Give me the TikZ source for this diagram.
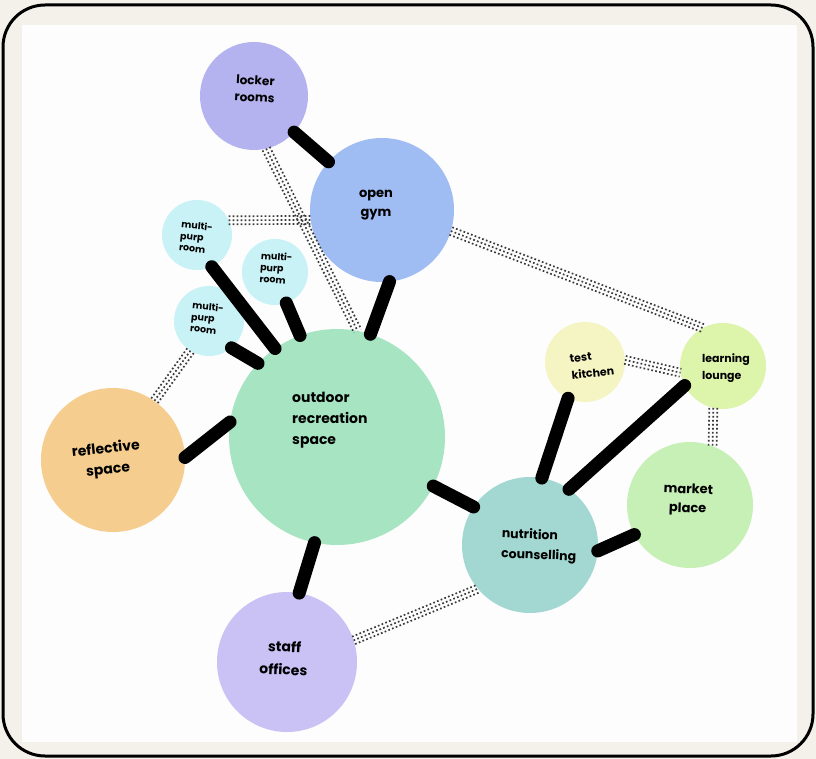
\documentclass[tikz,border=0pt]{standalone}
\usepackage{fontspec}
\setmainfont{Poppins}
\usetikzlibrary{calc}
\definecolor{cBg}{HTML}{F3F1EA}
\definecolor{cIn}{HTML}{FDFDFE}
\definecolor{cLock}{HTML}{B4B2EF}
\definecolor{cGym}{HTML}{9FBCF3}
\definecolor{cMp}{HTML}{C8F2F6}
\definecolor{cOut}{HTML}{A7E5C2}
\definecolor{cRefl}{HTML}{F5CE8F}
\definecolor{cNut}{HTML}{A2D8D1}
\definecolor{cKit}{HTML}{F5F4C3}
\definecolor{cLng}{HTML}{DDF5AB}
\definecolor{cMkt}{HTML}{C7F0B6}
\definecolor{cStaff}{HTML}{CAC1F5}
\definecolor{cDot}{HTML}{3A3A3A}
\tikzset{
  bub/.style={circle, draw=none, inner sep=0pt, outer sep=0pt},
  stub/.style={line width=13pt, line cap=round, black},
  dotl/.style={line width=1.7pt, cDot, dash pattern=on 1.7pt off 2.3pt},
  lbl/.style={font=\fontsize{14}{16}\selectfont, align=center, inner sep=0pt, text=black},
  slbl/.style={font=\fontsize{9.5}{11.5}\selectfont\bfseries, align=left, inner sep=0pt, text=black},
}
\newcommand\dband[2]{%
  \draw[dotl] ($(#1)!4pt!90:(#2)$) -- ($(#2)!4pt!-90:(#1)$);
  \draw[dotl] (#1) -- (#2);
  \draw[dotl] ($(#1)!4pt!-90:(#2)$) -- ($(#2)!4pt!90:(#1)$);}
\begin{document}
\begin{tikzpicture}[x=1pt,y=-1pt]
\useasboundingbox (0,0) rectangle (816,759);
\fill[cBg] (0,0) rectangle (816,759);
\fill[cIn] (22,25) rectangle (797,742);
\draw[line width=3pt, black, rounded corners=42pt] (3,5) rectangle (813,756);

% bubbles
\node[bub, fill=cLock, minimum size=108pt] (lock) at (254,96) {};
\node[bub, fill=cGym, minimum size=144pt] (gym) at (382,210) {};
\node[bub, fill=cMp, minimum size=70pt] (mp1) at (197,235) {};
\node[bub, fill=cMp, minimum size=66pt] (mp2) at (275,272) {};
\node[bub, fill=cMp, minimum size=70pt] (mp3) at (209,321) {};
\node[bub, fill=cOut, minimum size=216pt] (out) at (337,437) {};
\node[bub, fill=cRefl, minimum size=144pt] (refl) at (113,460) {};
\node[bub, fill=cNut, minimum size=136pt] (nut) at (530,545) {};
\node[bub, fill=cKit, minimum size=80pt] (kit) at (585,362) {};
\node[bub, fill=cLng, minimum size=86pt] (lng) at (723,366) {};
\node[bub, fill=cMkt, minimum size=126pt] (mkt) at (690,505) {};
\node[bub, fill=cStaff, minimum size=140pt] (staff) at (287,662) {};

% dotted bands
\dband{lock.-77}{out.79}
\dband{mp1.25}{gym.188}
\dband{gym.-17}{lng.118}
\dband{kit.3}{lng.189}
\dband{lng.-103}{mkt.69}
\dband{mp3.238}{refl.55}
\dband{staff.18}{nut.220}

% thick stubs
\draw[stub] (lock.-42) -- (gym.138);
\draw[stub] (gym.-84) -- (out.72);
\draw[stub] (mp1.-65) -- (out.125);
\draw[stub] (mp2.-70) -- (out.110);
\draw[stub] (mp3.-50) -- (out.137);
\draw[stub] (refl.2) -- (out.172);
\draw[stub] (out.-27) -- (nut.146);
\draw[stub] (out.-102) -- (staff.80);
\draw[stub] (nut.80) -- (kit.-115);
\draw[stub] (nut.55) -- (lng.207);
\draw[stub] (nut.-5) -- (mkt.208);

% labels
\node[lbl, font=\fontsize{12}{17}\selectfont\bfseries, rotate=-3] (lockT) at (255,89) {locker\\rooms};
\node[lbl, font=\fontsize{13}{19}\selectfont\bfseries] (gymT) at (376,205) {open\\gym};
\node[slbl, rotate=-6] (mp1T) at (196,237) {multi-\\purp\\room};
\node[slbl, rotate=-4] (mp2T) at (276,268) {multi-\\purp\\room};
\node[slbl, rotate=-6] (mp3T) at (207,318) {multi-\\purp\\room};
\node[lbl, align=left, anchor=west, font=\fontsize{14}{21}\selectfont\bfseries] (outT) at (292,420) {outdoor\\recreation\\space};
\node[lbl, rotate=6, font=\fontsize{14}{21}\selectfont\bfseries] (reflT) at (107,460) {reflective\\space};
\node[lbl, align=left, rotate=-2, font=\fontsize{12.5}{20}\selectfont\bfseries] (nutT) at (539,546) {nutrition\\counselling};
\node[lbl, align=left, rotate=6, font=\fontsize{11}{17}\selectfont\bfseries] (kitT) at (592,365) {test\\kitchen};
\node[lbl, align=left, font=\fontsize{11}{17}\selectfont\bfseries] (lngT) at (726,368) {learning\\lounge};
\node[lbl, rotate=-2, font=\fontsize{13}{19}\selectfont\bfseries] (mktT) at (688,500) {market\\place};
\node[lbl, rotate=-3, font=\fontsize{14}{23}\selectfont\bfseries] (staffT) at (284,658) {staff\\offices};
\end{tikzpicture}
\end{document}
